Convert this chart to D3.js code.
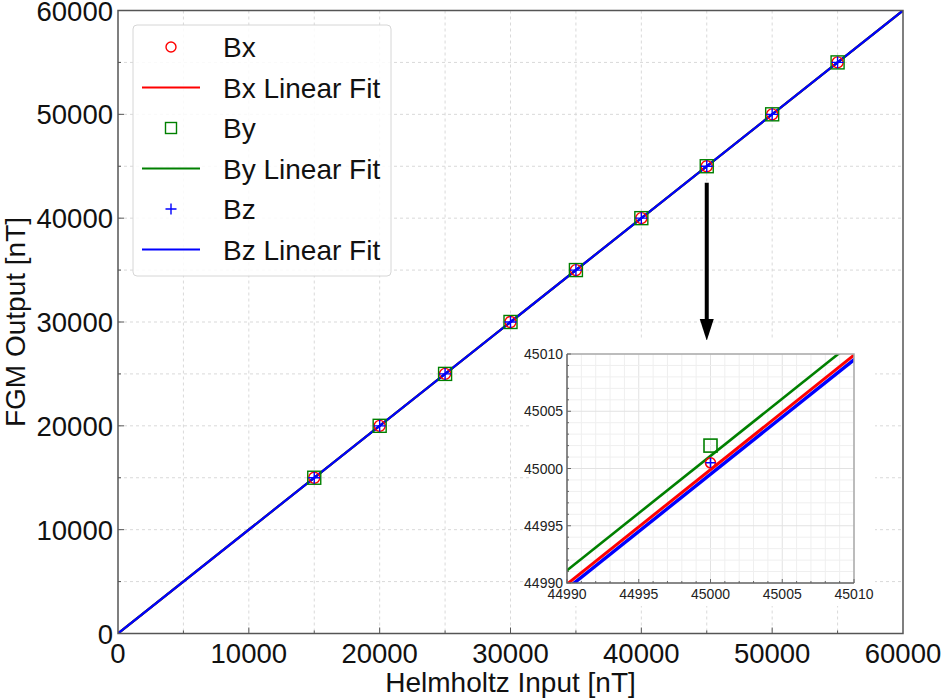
<!DOCTYPE html>
<html><head><meta charset="utf-8">
<script src="https://cdnjs.cloudflare.com/ajax/libs/d3/7.8.5/d3.min.js"></script>
<style>
body{margin:0;background:#fff;}
svg{display:block;font-family:"Liberation Sans",Arial,sans-serif;}
</style></head>
<body>
<svg id="chart" width="941" height="699"></svg>
<script>
// ---------- data ----------
const inputField = [15000, 20000, 25000, 30000, 35000, 40000, 45000, 50000, 55000];
const bxValues   = [15000.2, 20000.3, 25000.1, 30000.4, 35000.2, 40000.3, 45000.5, 50000.2, 55000.1];
const byValues   = [15001.5, 20001.8, 25001.6, 30001.9, 35001.7, 40001.8, 45002.0, 50001.9, 55001.8];
const bzValues   = [15000.1, 20000.2, 25000.0, 30000.3, 35000.1, 40000.2, 45000.5, 50000.1, 55000.0];
const fitSlope   = [1.0, 1.0, 1.0];
const fitOffset  = [-0.1, 1.1, -0.5];
const seriesNames = ["Bx", "By", "Bz"];
const seriesColors = ["#ff0000", "#008000", "#0000ff"];
const mainTicks = [0, 10000, 20000, 30000, 40000, 50000, 60000];
const mainGrid  = [5000, 10000, 15000, 20000, 25000, 30000, 35000, 40000, 45000, 50000, 55000];
const insetTicks = [44990, 44995, 45000, 45005, 45010];
const insetGrid  = d3.range(44990, 45011, 1);

const series = [bxValues, byValues, bzValues];

// ---------- layout ----------
const svg = d3.select("#chart");
const M = {l:118, r:903, t:10.5, b:633.5};
const x = d3.scaleLinear().domain([0, 60000]).range([M.l, M.r]);
const y = d3.scaleLinear().domain([0, 60000]).range([M.b, M.t]);

svg.append("defs").append("clipPath").attr("id","mainclip")
  .append("rect").attr("x",M.l).attr("y",M.t).attr("width",M.r-M.l).attr("height",M.b-M.t);

// grid
const g = svg.append("g");
g.selectAll(".gx").data(mainGrid).join("line")
  .attr("x1",d=>x(d)).attr("x2",d=>x(d)).attr("y1",M.t).attr("y2",M.b)
  .attr("stroke","#d9d9d9").attr("stroke-width",1).attr("stroke-dasharray","3,3");
g.selectAll(".gy").data(mainGrid).join("line")
  .attr("y1",d=>y(d)).attr("y2",d=>y(d)).attr("x1",M.l).attr("x2",M.r)
  .attr("stroke","#d9d9d9").attr("stroke-width",1).attr("stroke-dasharray","3,3");

// fit lines
const lineGen = (sx, sy) => d3.line().x(d=>sx(d[0])).y(d=>sy(d[1]));
const plot = svg.append("g").attr("clip-path","url(#mainclip)");
seriesNames.forEach((n,i)=>{
  const pts = [0, 60000].map(v=>[v, fitSlope[i]*v + fitOffset[i]]);
  plot.append("path").datum(pts).attr("d", lineGen(x,y))
    .attr("fill","none").attr("stroke",seriesColors[i]).attr("stroke-width",2.2);
});

// markers
function drawMarker(sel, type, cx, cy, size, color, sw){
  if(type===0){
    sel.append("circle").attr("cx",cx).attr("cy",cy).attr("r",size/2)
      .attr("fill","none").attr("stroke",color).attr("stroke-width",sw);
  } else if(type===1){
    sel.append("rect").attr("x",cx-size/2).attr("y",cy-size/2).attr("width",size).attr("height",size)
      .attr("fill","none").attr("stroke",color).attr("stroke-width",sw);
  } else {
    sel.append("path").attr("d",`M${cx-size/2},${cy}H${cx+size/2}M${cx},${cy-size/2}V${cy+size/2}`)
      .attr("fill","none").attr("stroke",color).attr("stroke-width",sw);
  }
}
const mk = svg.append("g");
const mSizes = [11, 13, 12];
series.forEach((vals,i)=>{
  vals.forEach((v,j)=> drawMarker(mk, i, x(inputField[j]), y(v), mSizes[i], seriesColors[i], 1.4));
});

// axes frame
svg.append("rect").attr("x",M.l).attr("y",M.t).attr("width",M.r-M.l).attr("height",M.b-M.t)
  .attr("fill","none").attr("stroke","#555").attr("stroke-width",1.5);

// ticks (inward)
const tk = svg.append("g").attr("stroke","#555").attr("stroke-width",1);
mainGrid.forEach(d=>{
  const len = (d % 10000 === 0) ? 6 : 3;
  tk.append("line").attr("x1",x(d)).attr("x2",x(d)).attr("y1",M.b).attr("y2",M.b-len);
  tk.append("line").attr("y1",y(d)).attr("y2",y(d)).attr("x1",M.l).attr("x2",M.l+len);
});

// tick labels
const lab = svg.append("g").attr("fill","#111").style("font-size","27.5px");
mainTicks.forEach(d=>{
  lab.append("text").attr("x",x(d)).attr("y",M.b+29).attr("text-anchor","middle").text(d);
  lab.append("text").attr("x",M.l-5).attr("y",y(d)+10).attr("text-anchor","end").text(d);
});

// axis titles
svg.append("text").attr("x",(M.l+M.r)/2).attr("y",692).attr("text-anchor","middle")
  .style("font-size","28px").attr("fill","#111").text("Helmholtz Input [nT]");
svg.append("text").attr("transform",`translate(25,${(M.t+M.b)/2}) rotate(-90)`)
  .attr("text-anchor","middle").style("font-size","28px").attr("fill","#111").text("FGM Output [nT]");

// legend
const lg = svg.append("g");
lg.append("rect").attr("x",133).attr("y",25).attr("width",258).attr("height",251).attr("rx",4)
  .attr("fill","#fff").attr("fill-opacity",0.85).attr("stroke","#d6d6d6").attr("stroke-width",1);
const legendItems = [];
seriesNames.forEach((n,i)=>{
  legendItems.push({label:n, kind:"marker", i});
  legendItems.push({label:n+" Linear Fit", kind:"line", i});
});
legendItems.forEach((it,k)=>{
  const cy = 47 + k*40.5;
  if(it.kind==="marker"){
    drawMarker(lg, it.i, 171, cy, [10,11,11][it.i], seriesColors[it.i], 1.4);
  } else {
    lg.append("line").attr("x1",142).attr("x2",200).attr("y1",cy).attr("y2",cy)
      .attr("stroke",seriesColors[it.i]).attr("stroke-width",2.2);
  }
  lg.append("text").attr("x",223).attr("y",cy+10).style("font-size","28px").attr("fill","#111").text(it.label);
});

// arrow
const ax = x(45000);
svg.append("line").attr("x1",ax).attr("x2",ax).attr("y1",y(43400)).attr("y2",y(30000))
  .attr("stroke","#000").attr("stroke-width",4);
svg.append("path").attr("d",`M${ax-7},${y(30300)}L${ax+7},${y(30300)}L${ax},${y(28200)}Z`).attr("fill","#000");

// ---------- inset ----------
const I = {l:567, r:854, t:354, b:583};
svg.append("rect").attr("x",530).attr("y",340).attr("width",345).attr("height",266).attr("fill","#fff");
const xi = d3.scaleLinear().domain([44990, 45010]).range([I.l, I.r]);
const yi = d3.scaleLinear().domain([44990, 45010]).range([I.b, I.t]);
svg.select("defs").append("clipPath").attr("id","insetclip")
  .append("rect").attr("x",I.l).attr("y",I.t).attr("width",I.r-I.l).attr("height",I.b-I.t);
const ig = svg.append("g");
ig.selectAll(".ix").data(insetGrid).join("line")
  .attr("x1",d=>xi(d)).attr("x2",d=>xi(d)).attr("y1",I.t).attr("y2",I.b)
  .attr("stroke",d=>d%5===0?"#e2e2e2":"#efefef").attr("stroke-width",1);
ig.selectAll(".iy").data(insetGrid).join("line")
  .attr("y1",d=>yi(d)).attr("y2",d=>yi(d)).attr("x1",I.l).attr("x2",I.r)
  .attr("stroke",d=>d%5===0?"#e2e2e2":"#efefef").attr("stroke-width",1);
const ip = svg.append("g").attr("clip-path","url(#insetclip)");
const insetWidths = [3, 2.6, 3.4];
[2,0,1].forEach(i=>{
  const pts = [44985, 45015].map(v=>[v, fitSlope[i]*v + fitOffset[i]]);
  ip.append("path").datum(pts).attr("d", lineGen(xi,yi))
    .attr("fill","none").attr("stroke",seriesColors[i]).attr("stroke-width",insetWidths[i]);
});
const iSizes = [10, 13, 10];
series.forEach((vals,i)=>{
  vals.forEach((v,j)=> drawMarker(ip, i, xi(inputField[j]), yi(v), iSizes[i], seriesColors[i], 1.6));
});
// inset frame
svg.append("path").attr("d",`M${I.l},${I.t}H${I.r}V${I.b}`).attr("fill","none").attr("stroke","#aaa").attr("stroke-width",1.5);
svg.append("path").attr("d",`M${I.l},${I.t}V${I.b}H${I.r}`).attr("fill","none").attr("stroke","#666").attr("stroke-width",1.5);
const itk = svg.append("g").attr("stroke","#666").attr("stroke-width",1);
insetGrid.forEach(d=>{
  const len = d%5===0 ? 4 : 2;
  itk.append("line").attr("x1",xi(d)).attr("x2",xi(d)).attr("y1",I.b).attr("y2",I.b-len);
  itk.append("line").attr("y1",yi(d)).attr("y2",yi(d)).attr("x1",I.l).attr("x2",I.l+len);
});
const il = svg.append("g").attr("fill","#222").style("font-size","14px");
insetTicks.forEach(d=>{
  il.append("text").attr("x",xi(d)).attr("y",I.b+16).attr("text-anchor","middle").text(d);
  il.append("text").attr("x",I.l-4).attr("y",yi(d)+5).attr("text-anchor","end").text(d);
});
</script>
</body></html>
